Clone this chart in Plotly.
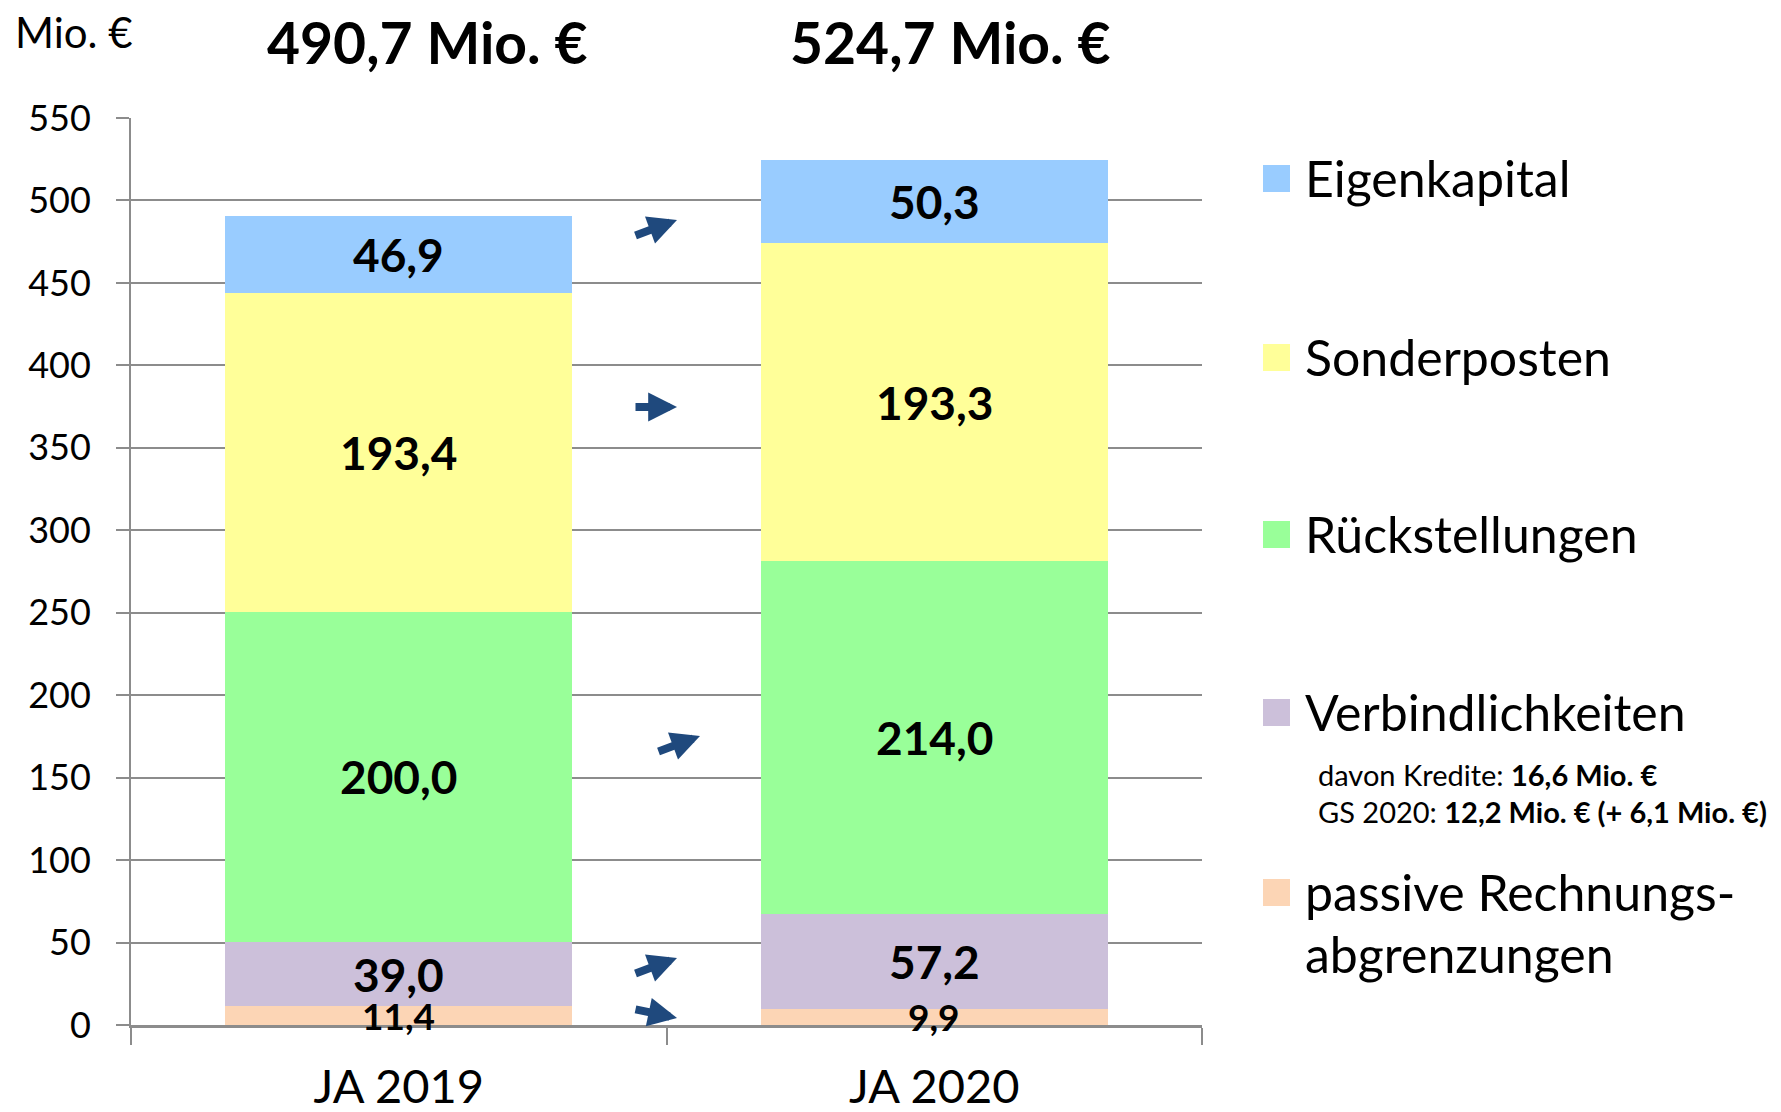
import plotly.graph_objects as go

# ---------------- data ----------------
categories = ["JA 2019", "JA 2020"]
series_names = ["passive Rechnungsabgrenzungen", "Verbindlichkeiten",
                "Rückstellungen", "Sonderposten", "Eigenkapital"]
legend_labels = ["passive Rechnungs-<br>abgrenzungen", "Verbindlichkeiten",
                 "Rückstellungen", "Sonderposten", "Eigenkapital"]
passive = [11.4, 9.9]
verbindlichkeiten = [39.0, 57.2]
rueckstellungen = [200.0, 214.0]
sonderposten = [193.4, 193.3]
eigenkapital = [46.9, 50.3]
series_values = [passive, verbindlichkeiten, rueckstellungen, sonderposten, eigenkapital]
colors = ["#FCD5B5", "#CCC0DA", "#99FF99", "#FFFF99", "#99CCFF"]
y_ticks = list(range(0, 551, 50))
kredite = 16.6
gs_2020 = 12.2
gs_delta = 6.1
unit_label = "Mio. €"

# ---------------- layout constants (screenshot pixels) ----------------
OFF = 8                      # default page body margin
SW, SH = 1781, 1112          # screenshot size
W, H = SW - 2 * OFF, SH - OFF
PL, PR, PT, PB = 131, 1202, 118, 1025   # plot area in screenshot pixels
ML, MR, MT, MB = PL - OFF, (SW - OFF) - PR, PT - OFF, (OFF + H) - PB
PW, PH = PR - PL, PB - PT
FONT = "Lato"
GRID = "#8c8c8c"
ARROW = "#1F497D"


def px_x(p):
    return (p - PL) / PW


def px_y(p):
    return (PB - p) / PH


def de(v, fmt="{:.1f}"):
    return fmt.format(v).replace(".", ",")


fig = go.Figure()
for name, vals, col in zip(series_names, series_values, colors):
    fig.add_trace(go.Bar(
        x=categories, y=vals, name=name,
        marker=dict(color=col, line=dict(width=0)),
        hoverinfo="skip",
    ))

annotations = []
shapes = []

# segment value labels (centred in each segment)
base = [0.0] * len(categories)
for name, vals in zip(series_names, series_values):
    small = name.startswith("passive")
    for i, (c, v) in enumerate(zip(categories, vals)):
        annotations.append(dict(xref="x", yref="y", x=c, y=base[i] + v / 2,
                                xanchor="center", yanchor="middle", showarrow=False,
                                text=f"<b>{de(v)}</b>",
                                font=dict(family=FONT, size=37 if small else 46, color="black")))
        base[i] += v

# unit label
annotations.append(dict(xref="paper", yref="paper", x=px_x(13), y=px_y(32),
                        xanchor="left", yanchor="middle", showarrow=False,
                        text=unit_label, font=dict(family=FONT, size=42, color="black")))

# totals above bars
totals = [sum(s[i] for s in series_values) for i in range(len(categories))]
total_px = [427, 950]
for t, xp in zip(totals, total_px):
    annotations.append(dict(xref="paper", yref="paper", x=px_x(xp), y=px_y(42),
                            xanchor="center", yanchor="middle", showarrow=False,
                            text=f"<b>{de(t)} {unit_label}</b>",
                            font=dict(family=FONT, size=57, color="black")))

# change arrows between bars (direction from data)
arrow_anchor_px = [(677, 1018), (677, 958), (700, 736), (677, 407), (677, 220)]
for vals, (hx, hy) in zip(series_values, arrow_anchor_px):
    change = vals[1] - vals[0]
    if change > 1:
        ay = 16
    elif change < -1:
        ay = -9
    else:
        ay = 0
    annotations.append(dict(xref="paper", yref="paper", x=px_x(hx), y=px_y(hy),
                            ax=-43, ay=ay, text="", showarrow=True,
                            arrowhead=2, arrowwidth=8, arrowsize=0.72,
                            arrowcolor=ARROW))

# manual legend
legend_rows = [892, 712, 534, 357, 178]
LINE_STEP = 62
for lab, col, ry in zip(legend_labels, colors, legend_rows):
    shapes.append(dict(type="rect", xref="paper", yref="paper",
                       x0=px_x(1263), x1=px_x(1290), y0=px_y(ry + 14), y1=px_y(ry - 13),
                       fillcolor=col, line=dict(width=0)))
    for k, line in enumerate(lab.split("<br>")):
        annotations.append(dict(xref="paper", yref="paper", x=px_x(1303),
                                y=px_y(ry + k * LINE_STEP),
                                xanchor="left", yanchor="middle", align="left", showarrow=False,
                                text=line, font=dict(family=FONT, size=50, color="black")))

sub_lines = [
    (774, f"davon Kredite: <b>{de(kredite)} {unit_label}</b>"),
    (811, f"GS 2020: <b>{de(gs_2020)} {unit_label} (+ {de(gs_delta)} {unit_label})</b>"),
]
for ry, txt in sub_lines:
    annotations.append(dict(xref="paper", yref="paper", x=px_x(1316), y=px_y(ry),
                            xanchor="left", yanchor="middle", showarrow=False,
                            text=txt, font=dict(family=FONT, size=29, color="black")))

fig.update_layout(
    width=W, height=H,
    margin=dict(l=ML, r=MR, t=MT, b=MB),
    barmode="stack", bargap=0.352,
    plot_bgcolor="white", paper_bgcolor="white",
    showlegend=False,
    font=dict(family=FONT, color="black"),
    annotations=annotations, shapes=shapes,
    xaxis=dict(range=[-0.5, 1.5], tickson="boundaries", ticks="outside",
               ticklen=17, tickwidth=2, tickcolor=GRID,
               showline=True, linecolor=GRID, linewidth=3,
               showgrid=False, tickfont=dict(family=FONT, size=47, color="black"),
               ticklabelstandoff=19, automargin=False),
    yaxis=dict(range=[0, 550], tickvals=y_ticks, ticks="outside",
               ticklen=13, tickwidth=2, tickcolor=GRID,
               showline=True, linecolor=GRID, linewidth=2,
               showgrid=True, gridcolor=GRID, gridwidth=2, zeroline=False,
               tickfont=dict(family=FONT, size=36, color="black"),
               ticklabelstandoff=18, automargin=False),
)

fig.write_html("out.html")
